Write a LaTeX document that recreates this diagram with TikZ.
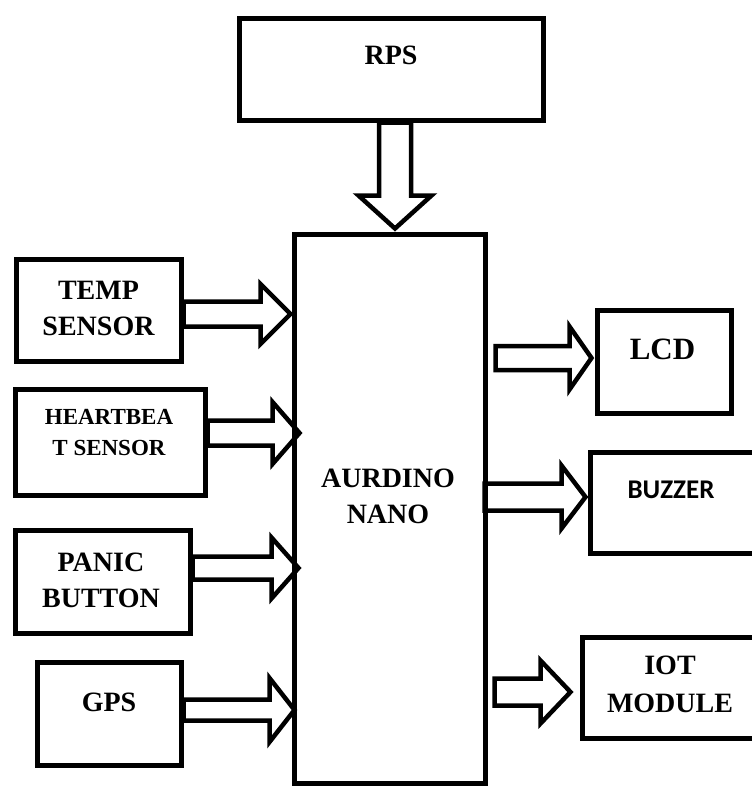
\documentclass[tikz,border=0pt]{standalone}
\usepackage{fontspec}
\setmainfont{Liberation Serif}
\newfontfamily\calibrifont{Carlito}
\usetikzlibrary{calc}

% hollow block arrow: start, tip, shaft half width, head half width, head length
\newcommand{\fatarrow}[5]{%
  \coordinate (fa-s) at #1;
  \coordinate (fa-t) at #2;
  \coordinate (fa-h) at ($(fa-t)!#5!(fa-s)$);
  \draw[fat] ($(fa-s)!#3!90:(fa-t)$) -- ($(fa-h)!#3!-90:(fa-s)$)
    -- ($(fa-h)!#4!-90:(fa-s)$) -- (fa-t) -- ($(fa-h)!#4!90:(fa-s)$)
    -- ($(fa-h)!#3!90:(fa-s)$) -- ($(fa-s)!#3!-90:(fa-t)$) -- cycle;
}

\begin{document}
\begin{tikzpicture}[x=1pt, y=-1pt,
    box/.style={draw, line width=5pt, inner sep=0pt},
    txt/.style={font=\bfseries\fontsize{28}{36}\selectfont, align=center, inner sep=0pt},
    fat/.style={draw, line width=4.5pt, line join=miter}]
  \useasboundingbox (0,0) rectangle (752,787);
  % blocks
  \node[box, minimum width=304, minimum height=102] (rps) at (391,69) {};
  \node[box, minimum width=191, minimum height=549] (nano) at (389.5,508.5) {};
  \node[box, minimum width=165, minimum height=102] (temp) at (98.5,310) {};
  \node[box, minimum width=190, minimum height=106] (heart) at (110,442) {};
  \node[box, minimum width=175, minimum height=103] (panic) at (102.5,581.5) {};
  \node[box, minimum width=144, minimum height=103] (gps) at (109,713.5) {};
  \node[box, minimum width=134, minimum height=103] (lcd) at (664,361.5) {};
  \node[box, minimum width=164, minimum height=101] (buzzer) at (672,502.5) {};
  \node[box, minimum width=172, minimum height=101] (iot) at (668,687.5) {};
  % texts
  \node[txt] (rps-t) at ([yshift=14pt]rps.center) {RPS};
  \node[txt] (nano-t) at ([xshift=-1.5pt,yshift=12.5pt]nano.center) {AURDINO\\NANO};
  \node[txt] (temp-t) at ([yshift=2pt]temp.center) {TEMP\\SENSOR};
  \node[txt, font=\bfseries\fontsize{23}{31}\selectfont] (heart-t) at ([xshift=-1pt,yshift=9.5pt]heart.center) {HEARTBEA\\T SENSOR};
  \node[txt] (panic-t) at ([xshift=-1.5pt,yshift=1.5pt]panic.center) {PANIC\\BUTTON};
  \node[txt] (gps-t) at ([yshift=11.5pt]gps.center) {GPS};
  \node[txt, font=\bfseries\fontsize{31}{38}\selectfont] (lcd-t) at ([xshift=-1.5pt,yshift=12.5pt]lcd.center) {LCD};
  \node[txt, font=\calibrifont\bfseries\fontsize{27}{33}\selectfont] (buzzer-t) at ([xshift=-1pt,yshift=12.5pt]buzzer.center) {BUZZER};
  \node[txt, font=\bfseries\fontsize{28}{38}\selectfont] (iot-t) at ([xshift=2pt,yshift=3.5pt]iot.center) {IOT\\MODULE};
  % arrows into the nano
  \fatarrow{([xshift=4pt]rps.south)}{([xshift=4pt,yshift=3pt]rps.south |- nano.north)}{16pt}{36.5pt}{33pt}
  \fatarrow{([yshift=-4pt]temp.east)}{([xshift=-1pt,yshift=-4pt]temp.east -| nano.west)}{12.5pt}{30pt}{30pt}
  \fatarrow{([yshift=9pt]heart.east)}{([xshift=8pt,yshift=9pt]heart.east -| nano.west)}{12.5pt}{31pt}{27pt}
  \fatarrow{([yshift=13.5pt]panic.east)}{([xshift=7pt,yshift=13.5pt]panic.east -| nano.west)}{11.5pt}{30.5pt}{27pt}
  \fatarrow{([yshift=3.5pt]gps.east)}{([xshift=3pt,yshift=3.5pt]gps.east -| nano.west)}{10.5pt}{32pt}{25pt}
  % arrows out of the nano
  \fatarrow{([xshift=8pt,yshift=3.5pt]nano.east |- lcd.west)}{([xshift=-3pt,yshift=3.5pt]lcd.west)}{12pt}{31.5pt}{22pt}
  \fatarrow{([xshift=-3pt,yshift=5.5pt]nano.east |- buzzer.west)}{([xshift=-2pt,yshift=5.5pt]buzzer.west)}{13.5pt}{31.5pt}{24pt}
  \fatarrow{([xshift=7pt,yshift=-4.5pt]nano.east |- iot.west)}{([xshift=-9pt,yshift=-4.5pt]iot.west)}{13.5pt}{31.5pt}{30pt}
\end{tikzpicture}
\end{document}
